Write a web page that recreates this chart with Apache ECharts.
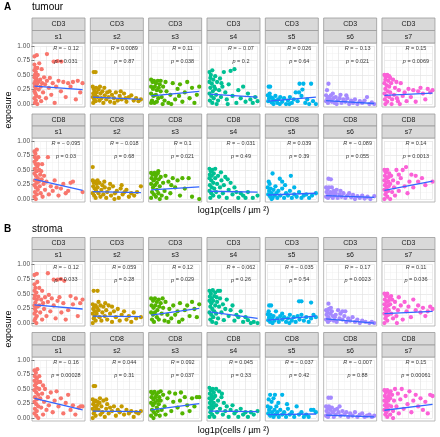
<!DOCTYPE html>
<html><head><meta charset="utf-8">
<script src="https://cdn.jsdelivr.net/npm/echarts@6/dist/echarts.min.js"></script>
<style>html,body{margin:0;padding:0;background:#fff}#c{width:440px;height:437px}</style>
</head><body><div id="c"></div>
<script>
const sections = ['tumour', 'stroma'];
const sectionTags = ['A', 'B'];
const markers = ['CD3', 'CD8'];
const samples = ['s1', 's2', 's3', 's4', 's5', 's6', 's7'];
const colors = ['#F8766D', '#C49A00', '#53B400', '#00C094', '#00B6EB', '#A58AFF', '#FB61D7'];
const yTickLabels = ['0.00', '0.25', '0.50', '0.75', '1.00'];
const xTitle = 'log1p(cells / µm ²)';
const yTitle = 'exposure';

const tumourCD3 = [
 [[0,0.82],[0.05,0.84],[0.26,0.86],[0.40,0.73],[0.48,0.74],[0.56,0.73],[0,0.68],[0.02,0.62],[0,0.58],[0.03,0.55],[0.01,0.5],[0,0.46],[0.04,0.44],[0.02,0.4],[0,0.36],[0.05,0.34],[0.01,0.3],[0.03,0.27],[0,0.22],[0.02,0.18],[0.04,0.14],[0,0.1],[0.03,0.06],[0.01,0.02],[0.06,0.0],[0.07,0.5],[0.08,0.38],[0.09,0.25],[0.1,0.12],[0.12,0.42],[0.13,0.3],[0.14,0.05],[0.16,0.36],[0.18,0.2],[0.2,0.46],[0.22,0.34],[0.24,0.1],[0.26,0.4],[0.3,0.28],[0.32,0.45],[0.35,0.16],[0.38,0.36],[0.42,0.02],[0.45,0.3],[0.5,0.4],[0.55,0.22],[0.6,0.38],[0.65,0.12],[0.7,0.36],[0.75,0.3],[0.8,0.38],[0.86,0.08],[0.9,0.4],[0.95,0.2],[1.0,0.36],[0.15,0.6],[0.1,0.7],[0.06,0.62]],
 [[0.02,0.55],[0.06,0.55],[0,0.3],[0.02,0.26],[0.04,0.22],[0.01,0.18],[0.05,0.15],[0,0.12],[0.03,0.08],[0.06,0.05],[0.01,0.02],[0.08,0.2],[0.1,0.12],[0.12,0.25],[0.14,0.06],[0.16,0.18],[0.18,0.1],[0.2,0.22],[0.22,0.02],[0.25,0.15],[0.28,0.08],[0.3,0.2],[0.33,0.12],[0.36,0.04],[0.4,0.16],[0.44,0.1],[0.48,0.2],[0.52,0.06],[0.56,0.14],[0.6,0.08],[0.65,0.18],[0.7,0.04],[0.75,0.12],[0.8,0.15],[0.85,0.06],[0.9,0.1],[0.95,0.05],[1.0,0.08],[0.07,0.28],[0.15,0.3],[0.24,0.28],[0.35,0.22],[0.45,0.02],[0.58,0.22],[0.68,0.1]],
 [[0,0.42],[0.03,0.38],[0.06,0.4],[0.1,0.36],[0.14,0.4],[0.18,0.34],[0,0.3],[0.04,0.26],[0.08,0.3],[0.12,0.24],[0.16,0.28],[0.2,0.22],[0,0.18],[0.05,0.14],[0.1,0.16],[0.15,0.1],[0.02,0.06],[0.07,0.02],[0.12,0.04],[0.22,0.12],[0.25,0.3],[0.28,0.06],[0.32,0.22],[0.36,0.02],[0.4,0.16],[0.45,0.36],[0.5,0.08],[0.55,0.26],[0.6,0.34],[0.65,0.04],[0.7,0.2],[0.75,0.38],[0.8,0.1],[0.85,0.28],[0.9,0.02],[0.95,0.16],[1.0,0.3],[0.3,0.38],[0.42,0.0],[0.58,0.14],[0.2,0.4],[0.0,0.02],[0.24,0.0]],
 [[0,0.55],[0.03,0.5],[0.06,0.58],[0.02,0.45],[0.08,0.42],[0,0.38],[0.05,0.35],[0.1,0.3],[0.02,0.28],[0.07,0.22],[0,0.18],[0.04,0.14],[0.09,0.1],[0.01,0.06],[0.06,0.02],[0.12,0.26],[0.14,0.16],[0.16,0.38],[0.18,0.06],[0.2,0.24],[0.22,0.44],[0.24,0.12],[0.27,0.3],[0.3,0.55],[0.33,0.2],[0.36,0.08],[0.4,0.34],[0.44,0.57],[0.48,0.14],[0.52,0.6],[0.56,0.02],[0.6,0.24],[0.65,0.1],[0.7,0.3],[0.75,0.04],[0.8,0.18],[0.85,0.08],[0.9,0.02],[0.95,0.12],[1.0,0.05],[0.12,0.48],[0.25,0.36],[0.38,0.0],[0.15,0.0]],
 [[0.02,0.3],[0.05,0.3],[0,0.15],[0.03,0.1],[0.06,0.12],[0.01,0.05],[0.08,0.03],[0.1,0.1],[0.13,0.06],[0.16,0.14],[0.2,0.02],[0.22,0.08],[0.26,0.12],[0.3,0.04],[0.34,0.1],[0.38,0.0],[0.42,0.06],[0.46,0.12],[0.5,0.02],[0.54,0.08],[0.58,0.2],[0.62,0.05],[0.66,0.35],[0.7,0.14],[0.74,0.35],[0.78,0.02],[0.82,0.08],[0.86,0.0],[0.9,0.35],[0.94,0.05],[1.0,0.0],[0.65,0.2],[0.72,0.25],[0.45,0.0],[0.12,0.0],[0.25,0.0],[0.04,0.18],[0.18,0.06]],
 [[0.05,0.35],[0.02,0.24],[0,0.15],[0.03,0.1],[0.06,0.12],[0,0.05],[0.04,0.02],[0.08,0.08],[0.1,0.15],[0.12,0.04],[0.15,0.1],[0.18,0.02],[0.2,0.12],[0.24,0.06],[0.28,0.1],[0.32,0.02],[0.36,0.08],[0.4,0.04],[0.44,0.1],[0.48,0.0],[0.52,0.06],[0.56,0.02],[0.6,0.08],[0.65,0.0],[0.7,0.05],[0.75,0.02],[0.8,0.06],[0.85,0.12],[0.9,0.0],[0.95,0.03],[1.0,0.0],[0.3,0.16],[0.14,0.18],[0.22,0.0],[0.42,0.15]],
 [[0,0.5],[0.03,0.46],[0.06,0.5],[0.1,0.48],[0.02,0.42],[0.08,0.4],[0,0.36],[0.05,0.32],[0.1,0.3],[0.02,0.26],[0.07,0.22],[0,0.18],[0.04,0.14],[0.1,0.12],[0.01,0.08],[0.06,0.04],[0.02,0.0],[0.12,0.2],[0.14,0.36],[0.16,0.08],[0.18,0.42],[0.2,0.16],[0.22,0.28],[0.25,0.38],[0.28,0.05],[0.3,0.24],[0.34,0.36],[0.38,0.14],[0.42,0.2],[0.46,0.05],[0.5,0.26],[0.55,0.12],[0.6,0.24],[0.65,0.04],[0.7,0.22],[0.75,0.28],[0.8,0.18],[0.85,0.08],[0.9,0.26],[0.95,0.2],[1.0,0.24],[0.15,0.0],[0.32,0.0],[0.12,0.45],[0.26,0.1]]
];
const tumourCD8 = [
 [[0,0.82],[0.02,0.78],[0.05,0.85],[0.01,0.72],[0.04,0.68],[0,0.64],[0.03,0.6],[0.06,0.56],[0.01,0.52],[0.05,0.48],[0,0.44],[0.03,0.4],[0.07,0.36],[0.01,0.32],[0.05,0.28],[0,0.24],[0.03,0.2],[0.07,0.16],[0.01,0.12],[0.05,0.08],[0,0.04],[0.03,0.0],[0.08,0.6],[0.1,0.5],[0.12,0.42],[0.09,0.3],[0.11,0.22],[0.13,0.1],[0.15,0.34],[0.17,0.04],[0.19,0.26],[0.22,0.16],[0.25,0.3],[0.28,0.72],[0.3,0.08],[0.34,0.22],[0.38,0.14],[0.42,0.32],[0.46,0.2],[0.5,0.06],[0.55,0.18],[0.6,0.26],[0.65,0.1],[0.7,0.14],[0.75,0.28],[0.8,0.3],[1.0,0.12],[0.14,0.48],[0.2,0.4],[0.08,0.72],[0.16,0.6]],
 [[0,0.55],[0,0.32],[0.02,0.28],[0.05,0.3],[0.08,0.26],[0.01,0.22],[0.04,0.18],[0.07,0.14],[0,0.1],[0.03,0.06],[0.06,0.02],[0.1,0.2],[0.12,0.1],[0.14,0.28],[0.16,0.04],[0.18,0.16],[0.2,0.24],[0.22,0.08],[0.25,0.2],[0.28,0.02],[0.3,0.12],[0.34,0.18],[0.38,0.06],[0.42,0.22],[0.46,0.1],[0.5,0.14],[0.54,0.02],[0.58,0.18],[0.62,0.08],[0.66,0.12],[0.7,0.16],[0.75,0.04],[0.8,0.1],[0.86,0.06],[0.92,0.12],[1.0,0.22],[0.1,0.32],[0.24,0.3],[0.36,0.26],[0.45,0.0],[0.6,0.24]],
 [[0,0.45],[0.03,0.42],[0.07,0.45],[0.1,0.4],[0.14,0.44],[0.01,0.36],[0.05,0.32],[0.09,0.35],[0.12,0.28],[0.16,0.34],[0,0.26],[0.04,0.2],[0.08,0.24],[0.12,0.16],[0.02,0.12],[0.06,0.08],[0.1,0.04],[0.15,0.1],[0,0.02],[0.18,0.22],[0.2,0.38],[0.22,0.06],[0.25,0.28],[0.28,0.14],[0.32,0.02],[0.36,0.3],[0.4,0.1],[0.45,0.36],[0.5,0.2],[0.55,0.32],[0.6,0.06],[0.65,0.36],[0.7,0.18],[0.78,0.36],[0.85,0.04],[1.0,0.0],[0.3,0.4],[0.18,0.0],[0.42,0.24],[0.15,0.48]],
 [[0,0.52],[0.03,0.48],[0.06,0.5],[0.01,0.42],[0.05,0.4],[0.09,0.44],[0,0.36],[0.04,0.32],[0.08,0.28],[0.01,0.24],[0.05,0.2],[0.1,0.18],[0,0.14],[0.04,0.1],[0.08,0.06],[0.02,0.02],[0.12,0.36],[0.14,0.12],[0.16,0.26],[0.18,0.4],[0.2,0.04],[0.22,0.2],[0.25,0.32],[0.28,0.1],[0.3,0.24],[0.33,0.38],[0.36,0.02],[0.4,0.16],[0.44,0.28],[0.48,0.08],[0.52,0.2],[0.56,0.12],[0.6,0.02],[0.65,0.1],[0.7,0.06],[0.75,0.02],[0.8,0.12],[0.9,0.02],[1.0,0.06],[0.12,0.52],[0.24,0.46],[0.38,0.34]],
 [[0.02,0.3],[0.1,0.44],[0.25,0.35],[0.3,0.3],[0.48,0.4],[0,0.2],[0.03,0.14],[0.06,0.18],[0.01,0.08],[0.05,0.04],[0.08,0.1],[0.1,0.02],[0.12,0.16],[0.14,0.06],[0.16,0.22],[0.18,0.1],[0.2,0.02],[0.22,0.14],[0.26,0.06],[0.3,0.18],[0.34,0.02],[0.38,0.1],[0.42,0.06],[0.46,0.14],[0.5,0.02],[0.55,0.08],[0.6,0.04],[0.65,0.12],[0.7,0.02],[0.75,0.06],[0.8,0.08],[0.86,0.02],[0.92,0.06],[1.0,0.1],[0.04,0.26],[0.08,0.0],[0.36,0.24],[0.55,0.2]],
 [[0.05,0.35],[0.1,0.34],[0,0.2],[0.03,0.16],[0.06,0.2],[0.01,0.12],[0.05,0.08],[0.09,0.12],[0,0.04],[0.04,0.02],[0.08,0.05],[0.12,0.1],[0.14,0.02],[0.16,0.14],[0.18,0.06],[0.2,0.1],[0.24,0.02],[0.28,0.08],[0.32,0.04],[0.36,0.1],[0.4,0.02],[0.44,0.06],[0.48,0.1],[0.52,0.03],[0.56,0.07],[0.6,0.0],[0.65,0.05],[0.7,0.02],[0.75,0.06],[0.8,0.01],[0.86,0.04],[0.92,0.0],[1.0,0.05],[0.22,0.16],[0.3,0.14],[0.12,0.2]],
 [[0,0.5],[0.03,0.46],[0.06,0.5],[0.1,0.44],[0.01,0.4],[0.05,0.36],[0.09,0.38],[0,0.32],[0.04,0.28],[0.08,0.3],[0.01,0.24],[0.05,0.2],[0.09,0.22],[0,0.16],[0.04,0.12],[0.08,0.14],[0.02,0.08],[0.06,0.04],[0,0.0],[0.12,0.26],[0.14,0.4],[0.16,0.12],[0.18,0.32],[0.2,0.2],[0.22,0.06],[0.25,0.5],[0.28,0.28],[0.3,0.14],[0.34,0.36],[0.38,0.5],[0.42,0.22],[0.45,0.55],[0.48,0.1],[0.52,0.3],[0.56,0.42],[0.6,0.2],[0.65,0.4],[0.7,0.3],[0.78,0.36],[0.85,0.24],[1.0,0.3],[0.12,0.0],[0.3,0.42]]
];
const stromaCD3 = [
 [[0,0.82],[0.05,0.84],[0.28,0.85],[0.4,0.74],[0.48,0.74],[0.55,0.75],[0.62,0.72],[0,0.66],[0.02,0.6],[0,0.55],[0.04,0.52],[0.01,0.47],[0,0.42],[0.05,0.4],[0.02,0.35],[0,0.3],[0.06,0.28],[0.01,0.24],[0.03,0.2],[0,0.16],[0.05,0.12],[0.02,0.08],[0,0.04],[0.04,0.0],[0.08,0.45],[0.1,0.3],[0.12,0.18],[0.14,0.4],[0.16,0.06],[0.18,0.34],[0.2,0.24],[0.22,0.44],[0.25,0.12],[0.28,0.36],[0.3,0.48],[0.33,0.2],[0.36,0.42],[0.4,0.3],[0.44,0.08],[0.48,0.38],[0.52,0.44],[0.56,0.18],[0.6,0.34],[0.65,0.06],[0.7,0.22],[0.75,0.46],[0.8,0.32],[0.86,0.42],[0.9,0.12],[0.95,0.34],[1.0,0.4],[0.1,0.6],[0.06,0.7],[0.16,0.55]],
 [[0.02,0.55],[0.1,0.55],[0,0.32],[0.03,0.28],[0.06,0.3],[0.01,0.24],[0.05,0.2],[0.09,0.26],[0,0.16],[0.04,0.12],[0.08,0.16],[0.02,0.08],[0.06,0.04],[0,0.0],[0.12,0.22],[0.14,0.1],[0.16,0.3],[0.18,0.04],[0.2,0.18],[0.22,0.28],[0.25,0.12],[0.28,0.22],[0.3,0.06],[0.33,0.3],[0.36,0.16],[0.4,0.02],[0.44,0.2],[0.48,0.1],[0.52,0.24],[0.56,0.04],[0.6,0.14],[0.65,0.2],[0.7,0.06],[0.75,0.12],[0.8,0.02],[0.85,0.18],[0.9,0.08],[1.0,0.1],[0.12,0.36],[0.26,0.34],[0.4,0.28]],
 [[0,0.42],[0.04,0.38],[0.08,0.42],[0.12,0.36],[0.16,0.4],[0.2,0.34],[0.01,0.3],[0.05,0.26],[0.09,0.3],[0.13,0.22],[0.17,0.28],[0,0.18],[0.04,0.14],[0.08,0.18],[0.12,0.1],[0.02,0.06],[0.06,0.02],[0.16,0.06],[0.22,0.16],[0.25,0.26],[0.28,0.04],[0.3,0.36],[0.34,0.14],[0.38,0.24],[0.42,0.08],[0.46,0.3],[0.5,0.14],[0.55,0.2],[0.6,0.34],[0.65,0.06],[0.7,0.22],[0.75,0.3],[0.8,0.12],[0.85,0.36],[0.9,0.24],[0.95,0.1],[1.0,0.32],[0.24,0.42],[0.36,0.02],[0.58,0.02]],
 [[0,0.55],[0.03,0.5],[0.07,0.56],[0.12,0.52],[0.18,0.55],[0.22,0.55],[0.01,0.45],[0.05,0.42],[0.1,0.46],[0.15,0.44],[0,0.38],[0.04,0.34],[0.08,0.38],[0.12,0.3],[0.02,0.28],[0.06,0.24],[0.1,0.2],[0,0.18],[0.04,0.14],[0.08,0.1],[0.02,0.06],[0.06,0.02],[0.14,0.16],[0.16,0.36],[0.18,0.08],[0.2,0.28],[0.22,0.42],[0.25,0.18],[0.28,0.32],[0.3,0.05],[0.33,0.24],[0.36,0.4],[0.4,0.12],[0.44,0.22],[0.48,0.3],[0.52,0.04],[0.56,0.14],[0.6,0.1],[0.65,0.2],[0.7,0.02],[0.75,0.1],[0.8,0.05],[0.86,0.0],[0.92,0.02],[1.0,0.0],[0.14,0.0]],
 [[0.03,0.3],[0.07,0.3],[0.65,0.37],[0.7,0.37],[0.9,0.35],[0,0.15],[0.03,0.1],[0.06,0.14],[0.01,0.05],[0.05,0.02],[0.09,0.08],[0.12,0.12],[0.14,0.04],[0.17,0.2],[0.2,0.08],[0.23,0.02],[0.26,0.12],[0.3,0.06],[0.34,0.1],[0.38,0.02],[0.42,0.08],[0.46,0.14],[0.5,0.04],[0.54,0.1],[0.58,0.02],[0.62,0.12],[0.66,0.06],[0.7,0.14],[0.75,0.04],[0.8,0.1],[0.85,0.02],[0.9,0.08],[0.95,0.14],[1.0,0.1],[0.1,0.0],[0.3,0.16],[0.02,0.2],[0.45,0.0]],
 [[0.05,0.33],[0,0.22],[0.03,0.18],[0.06,0.24],[0.01,0.14],[0.05,0.1],[0.09,0.16],[0,0.06],[0.04,0.02],[0.08,0.05],[0.12,0.2],[0.14,0.12],[0.16,0.04],[0.18,0.1],[0.2,0.14],[0.22,0.02],[0.25,0.22],[0.28,0.08],[0.3,0.16],[0.34,0.06],[0.38,0.12],[0.42,0.02],[0.46,0.08],[0.5,0.04],[0.55,0.1],[0.6,0.02],[0.65,0.06],[0.7,0.0],[0.75,0.04],[0.82,0.02],[0.9,0.0],[0.95,0.02],[1.0,0.0],[0.34,0.2],[0.4,0.2],[0.1,0.26]],
 [[0,0.5],[0.03,0.46],[0.06,0.5],[0.1,0.44],[0.01,0.4],[0.05,0.36],[0.09,0.38],[0,0.32],[0.04,0.28],[0.08,0.3],[0.01,0.24],[0.05,0.2],[0.09,0.22],[0,0.16],[0.04,0.12],[0.08,0.14],[0.02,0.08],[0.06,0.04],[0,0.0],[0.12,0.32],[0.14,0.16],[0.16,0.4],[0.18,0.08],[0.2,0.26],[0.22,0.36],[0.25,0.12],[0.28,0.22],[0.3,0.44],[0.34,0.3],[0.38,0.06],[0.42,0.36],[0.46,0.2],[0.5,0.28],[0.55,0.1],[0.6,0.4],[0.65,0.22],[0.7,0.3],[0.75,0.18],[0.8,0.26],[0.85,0.12],[0.9,0.2],[0.95,0.28],[1.0,0.24],[0.14,0.46],[0.26,0.0]]
];
const stromaCD8 = [
 [[0,0.82],[0.03,0.78],[0.06,0.84],[0.01,0.72],[0.05,0.68],[0,0.64],[0.04,0.6],[0.08,0.62],[0.01,0.56],[0.05,0.52],[0,0.48],[0.04,0.44],[0.08,0.4],[0.01,0.36],[0.05,0.32],[0,0.28],[0.04,0.24],[0.08,0.2],[0.01,0.16],[0.05,0.12],[0,0.08],[0.04,0.04],[0.08,0.0],[0.1,0.5],[0.12,0.34],[0.14,0.18],[0.16,0.42],[0.18,0.06],[0.2,0.28],[0.22,0.5],[0.25,0.14],[0.28,0.36],[0.3,0.22],[0.34,0.44],[0.38,0.1],[0.42,0.3],[0.46,0.46],[0.5,0.2],[0.55,0.34],[0.6,0.08],[0.65,0.26],[0.7,0.4],[0.75,0.14],[0.8,0.22],[0.85,0.06],[0.92,0.18],[0.96,0.2],[1.0,0.2],[0.12,0.62],[0.18,0.56],[0.1,0.72]],
 [[0.02,0.55],[0.05,0.55],[0,0.32],[0.03,0.28],[0.06,0.3],[0.1,0.28],[0.01,0.24],[0.05,0.2],[0.09,0.22],[0,0.16],[0.04,0.12],[0.08,0.16],[0.02,0.08],[0.06,0.04],[0,0.0],[0.12,0.14],[0.14,0.26],[0.16,0.06],[0.18,0.2],[0.2,0.1],[0.22,0.3],[0.25,0.02],[0.28,0.16],[0.3,0.24],[0.33,0.08],[0.36,0.18],[0.4,0.12],[0.44,0.2],[0.48,0.04],[0.52,0.14],[0.56,0.1],[0.6,0.2],[0.65,0.06],[0.7,0.14],[0.75,0.08],[0.8,0.12],[0.85,0.02],[0.9,0.1],[0.95,0.08],[1.0,0.12],[0.15,0.34],[0.28,0.32]],
 [[0,0.45],[0.03,0.42],[0.07,0.45],[0.11,0.4],[0.15,0.44],[0.01,0.36],[0.05,0.32],[0.09,0.36],[0.13,0.3],[0.17,0.36],[0,0.26],[0.04,0.22],[0.08,0.26],[0.12,0.18],[0.16,0.24],[0.02,0.14],[0.06,0.1],[0.1,0.06],[0.14,0.12],[0,0.04],[0.05,0.0],[0.18,0.04],[0.2,0.3],[0.22,0.14],[0.25,0.4],[0.28,0.2],[0.3,0.06],[0.34,0.34],[0.38,0.44],[0.42,0.12],[0.46,0.28],[0.5,0.42],[0.55,0.18],[0.6,0.3],[0.65,0.08],[0.7,0.36],[0.75,0.22],[0.8,0.12],[0.85,0.34],[0.9,0.2],[0.95,0.36],[1.0,0.36],[0.2,0.46],[0.62,0.44]],
 [[0,0.52],[0.03,0.48],[0.07,0.5],[0.01,0.42],[0.05,0.38],[0.09,0.44],[0,0.34],[0.04,0.3],[0.08,0.34],[0.01,0.26],[0.05,0.22],[0.09,0.26],[0,0.18],[0.04,0.14],[0.08,0.18],[0.02,0.1],[0.06,0.06],[0,0.02],[0.1,0.02],[0.12,0.38],[0.14,0.22],[0.16,0.1],[0.18,0.3],[0.2,0.46],[0.22,0.16],[0.25,0.36],[0.28,0.06],[0.3,0.26],[0.33,0.12],[0.36,0.2],[0.4,0.02],[0.44,0.14],[0.48,0.22],[0.52,0.08],[0.56,0.12],[0.6,0.02],[0.65,0.16],[0.7,0.06],[0.75,0.1],[0.8,0.02],[0.86,0.1],[0.92,0.06],[1.0,0.12],[0.14,0.5],[0.26,0.42]],
 [[0.05,0.4],[0.15,0.4],[0.3,0.4],[0.02,0.32],[0.08,0.28],[0.12,0.34],[0,0.2],[0.03,0.14],[0.06,0.18],[0.01,0.08],[0.05,0.04],[0.09,0.1],[0.12,0.02],[0.14,0.14],[0.16,0.06],[0.18,0.2],[0.2,0.1],[0.23,0.02],[0.26,0.14],[0.3,0.06],[0.34,0.1],[0.38,0.02],[0.42,0.16],[0.46,0.06],[0.5,0.1],[0.55,0.02],[0.6,0.2],[0.65,0.06],[0.7,0.1],[0.75,0.02],[0.8,0.06],[0.85,0.02],[0.9,0.14],[0.95,0.14],[1.0,0.1],[0.22,0.26],[0.4,0.24]],
 [[0.05,0.35],[0.1,0.35],[0,0.2],[0.03,0.16],[0.06,0.2],[0.01,0.12],[0.05,0.08],[0.09,0.14],[0,0.04],[0.04,0.02],[0.08,0.06],[0.12,0.18],[0.14,0.1],[0.16,0.02],[0.18,0.14],[0.2,0.06],[0.23,0.16],[0.26,0.1],[0.3,0.04],[0.34,0.12],[0.38,0.06],[0.42,0.1],[0.46,0.02],[0.5,0.08],[0.55,0.04],[0.6,0.1],[0.65,0.02],[0.7,0.06],[0.75,0.08],[0.8,0.02],[0.85,0.04],[0.9,0.06],[0.95,0.02],[1.0,0.04],[0.28,0.2]],
 [[0,0.48],[0.03,0.44],[0.06,0.48],[0.1,0.44],[0.13,0.46],[0.01,0.38],[0.05,0.34],[0.09,0.38],[0,0.3],[0.04,0.26],[0.08,0.3],[0.12,0.34],[0.01,0.22],[0.05,0.18],[0.09,0.22],[0,0.14],[0.04,0.1],[0.08,0.14],[0.02,0.06],[0.06,0.02],[0.12,0.06],[0.14,0.2],[0.16,0.4],[0.18,0.12],[0.2,0.3],[0.22,0.5],[0.25,0.2],[0.28,0.42],[0.3,0.08],[0.33,0.32],[0.36,0.5],[0.4,0.16],[0.44,0.38],[0.48,0.24],[0.52,0.46],[0.56,0.1],[0.6,0.3],[0.65,0.4],[0.7,0.2],[0.75,0.34],[0.8,0.14],[0.85,0.28],[0.9,0.08],[0.95,0.4],[1.0,0.38],[0.18,0.0]]
];

// fitted line at left and right end of each panel
const tumourCD3Fit = [[0.31,0.25],[0.12,0.08],[0.14,0.22],[0.17,0.12],[0.05,0.12],[0.06,0.01],[0.15,0.19]];
const tumourCD8Fit = [[0.34,0.15],[0.13,0.11],[0.16,0.21],[0.135,0.12],[0.07,0.10],[0.06,0.03],[0.15,0.31]];
const stromaCD3Fit = [[0.31,0.24],[0.12,0.11],[0.135,0.25],[0.19,0.08],[0.05,0.12],[0.07,0.0],[0.16,0.2]];
const stromaCD8Fit = [[0.34,0.14],[0.12,0.11],[0.14,0.25],[0.12,0.11],[0.06,0.07],[0.05,0.02],[0.135,0.235]];

const tumourCD3R = ['-0.12','0.0089','0.11','-0.07','0.026','-0.13','0.15'];
const tumourCD3P = ['0.031','0.87','0.038','0.2','0.64','0.021','0.0069'];
const tumourCD8R = ['-0.095','-0.018','0.1','-0.031','0.039','-0.089','0.14'];
const tumourCD8P = ['0.03','0.68','0.021','0.49','0.39','0.055','0.0013'];
const stromaCD3R = ['-0.12','0.059','0.12','-0.062','-0.035','-0.17','0.11'];
const stromaCD3P = ['0.033','0.28','0.029','0.26','0.54','0.0023','0.036'];
const stromaCD8R = ['-0.16','0.044','0.092','0.045','-0.037','-0.007','0.15'];
const stromaCD8P = ['0.00028','0.31','0.037','0.33','0.42','0.88','0.00061'];

const panelRows = [
  {pts: tumourCD3, fit: tumourCD3Fit, R: tumourCD3R, P: tumourCD3P, marker: 0},
  {pts: tumourCD8, fit: tumourCD8Fit, R: tumourCD8R, P: tumourCD8P, marker: 1},
  {pts: stromaCD3, fit: stromaCD3Fit, R: stromaCD3R, P: stromaCD3P, marker: 0},
  {pts: stromaCD8, fit: stromaCD8Fit, R: stromaCD8R, P: stromaCD8P, marker: 1}
];

// ---- layout (pixels) ----
const FONT = '"Liberation Sans", Arial, Helvetica, sans-serif';
const rowGeo = [
  {s1: 18, s2: 30.5, pt: 43, pb: 107},
  {s1: 114, s2: 126, pt: 138, pb: 202},
  {s1: 237.5, s2: 249.5, pt: 261.5, pb: 326},
  {s1: 332.5, s2: 345, pt: 357, pb: 421}
];
const colX0 = 32, colStep = 58.33, panelW = 53;
const EXP = 0.05 / 1.1;

const grid = [], xAxis = [], yAxis = [], series = [], graphic = [];
let k = 0;
panelRows.forEach((row, r) => {
  const g = rowGeo[r];
  const ph = g.pb - g.pt;
  for (let c = 0; c < 7; c++) {
    const L = colX0 + c * colStep;
    grid.push({left: L + panelW * EXP, top: g.pt + ph * EXP, width: panelW / 1.1, height: ph / 1.1});
    xAxis.push({gridIndex: k, type: 'value', min: 0, max: 1, interval: 0.25,
      axisLine: {show: false}, axisTick: {show: false}, axisLabel: {show: false},
      splitLine: {show: true, lineStyle: {color: '#e4e4e4', width: 0.7}},
      minorTick: {show: false, splitNumber: 2},
      minorSplitLine: {show: true, lineStyle: {color: '#f0f0f0', width: 0.5}}});
    yAxis.push({gridIndex: k, type: 'value', min: 0, max: 1, interval: 0.25,
      offset: panelW * EXP,
      axisLine: {show: false},
      axisTick: {show: c === 0, length: 3, lineStyle: {color: '#333', width: 0.7}},
      axisLabel: {show: c === 0, fontSize: 6.5, color: '#4d4d4d', margin: 2, fontFamily: FONT,
        formatter: v => yTickLabels[Math.round(v * 4)]},
      splitLine: {show: true, lineStyle: {color: '#e4e4e4', width: 0.7}},
      minorTick: {show: false, splitNumber: 2},
      minorSplitLine: {show: true, lineStyle: {color: '#f0f0f0', width: 0.5}}});
    series.push({type: 'scatter', xAxisIndex: k, yAxisIndex: k, data: row.pts[c], clip: false,
      symbolSize: 4.3, itemStyle: {color: colors[c], opacity: 1}, silent: true, z: 2});
    series.push({type: 'line', xAxisIndex: k, yAxisIndex: k, data: [[0, row.fit[c][0]], [1, row.fit[c][1]]],
      showSymbol: false, symbol: 'none', clip: false, lineStyle: {color: '#3366FF', width: 1.3}, silent: true, z: 3});
    const rTxt = row.R[c].replace('-', '− ');
    series.push({type: 'scatter', xAxisIndex: k, yAxisIndex: k, clip: false, silent: true, z: 4,
      symbolSize: 1, itemStyle: {color: 'rgba(0,0,0,0)'},
      data: [
        {value: [0.655, 0.95], label: {formatter: '{i|R} = ' + rTxt}},
        {value: [0.655, 0.735], label: {formatter: '{i|p} = ' + row.P[c]}}
      ],
      label: {show: true, position: 'inside', fontSize: 5.5, color: '#000', fontFamily: FONT,
        rich: {i: {fontStyle: 'italic', fontSize: 5.5, fontFamily: FONT, color: '#000'}}}});
    graphic.push({type: 'rect', z: 100, silent: true,
      shape: {x: L, y: g.pt, width: panelW, height: ph},
      style: {fill: 'none', stroke: '#a9a9a9', lineWidth: 0.8}});
    graphic.push({type: 'rect', z: 100, silent: true,
      shape: {x: L, y: g.s1, width: panelW, height: g.s2 - g.s1},
      style: {fill: '#d9d9d9', stroke: '#9a9a9a', lineWidth: 0.8}});
    graphic.push({type: 'rect', z: 100, silent: true,
      shape: {x: L, y: g.s2, width: panelW, height: g.pt - g.s2},
      style: {fill: '#d9d9d9', stroke: '#9a9a9a', lineWidth: 0.8}});
    graphic.push({type: 'text', z: 101, silent: true, x: L + panelW / 2, y: (g.s1 + g.s2) / 2,
      style: {text: markers[row.marker], fill: '#1a1a1a', font: '7px ' + FONT, align: 'center', verticalAlign: 'middle'}});
    graphic.push({type: 'text', z: 101, silent: true, x: L + panelW / 2, y: (g.s2 + g.pt) / 2,
      style: {text: samples[c], fill: '#1a1a1a', font: '7px ' + FONT, align: 'center', verticalAlign: 'middle'}});
    k++;
  }
});

const sectionY = [7, 229];
const yTitleY = [110, 329];
const xTitleY = [210.5, 431];
sections.forEach((s, i) => {
  graphic.push({type: 'text', z: 101, silent: true, x: 4, y: sectionY[i],
    style: {text: sectionTags[i], font: 'bold 10px ' + FONT, fill: '#000', verticalAlign: 'middle'}});
  graphic.push({type: 'text', z: 101, silent: true, x: 32, y: sectionY[i],
    style: {text: s, font: '10px ' + FONT, fill: '#000', verticalAlign: 'middle'}});
  graphic.push({type: 'text', z: 101, silent: true, x: 9, y: yTitleY[i], rotation: Math.PI / 2,
    style: {text: yTitle, font: '9px ' + FONT, fill: '#000', align: 'center', verticalAlign: 'middle'}});
  graphic.push({type: 'text', z: 101, silent: true, x: colX0 + (6 * colStep + panelW) / 2, y: xTitleY[i],
    style: {text: xTitle, font: '9px ' + FONT, fill: '#000', align: 'center', verticalAlign: 'middle'}});
});

const chart = echarts.init(document.getElementById('c'), null, {renderer: 'canvas'});
chart.setOption({animation: false, backgroundColor: '#fff', grid, xAxis, yAxis, series, graphic,
  textStyle: {fontFamily: FONT}});
</script></body></html>
